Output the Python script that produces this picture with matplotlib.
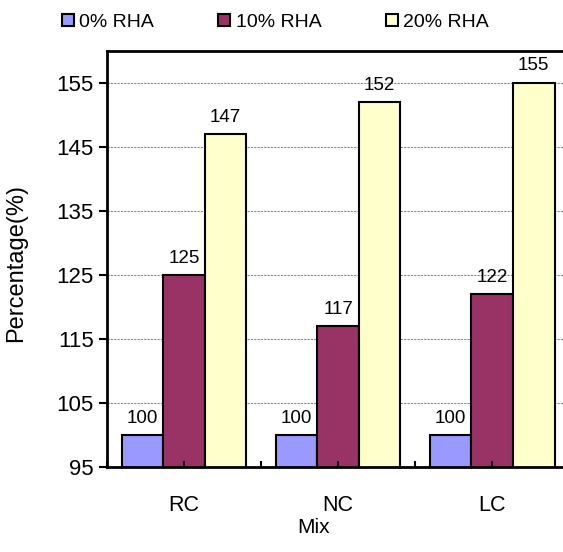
import numpy as np
import matplotlib
matplotlib.use("Agg")
import matplotlib.pyplot as plt
from matplotlib.patches import Patch
from matplotlib import font_manager

plt.rcParams['font.family'] = ['Liberation Sans', 'DejaVu Sans']
names = {f.name for f in font_manager.fontManager.ttflist}
narrow = ['Liberation Sans Narrow'] if 'Liberation Sans Narrow' in names else ['Liberation Sans']

mixes = ["RC", "NC", "LC"]
series = ["0% RHA", "10% RHA", "20% RHA"]
rha_0 = [100, 100, 100]
rha_10 = [125, 117, 122]
rha_20 = [147, 152, 155]
colors = ["#9999FF", "#993366", "#FFFFCC"]

fig = plt.figure(figsize=(5.63, 5.52), dpi=100)
# plot area runs slightly past the right edge of the figure
ax = fig.add_axes([0.190, 0.154, 0.821, 0.754])
ax.set_axisbelow(False)

x = np.arange(len(mixes))
w = 0.27
for i, (vals, c, lab) in enumerate(zip([rha_0, rha_10, rha_20], colors, series)):
    bars = ax.bar(x + (i - 1) * w, vals, w, color=c, edgecolor="black",
                  linewidth=1.5, label=lab, zorder=2)
    for b, v in zip(bars, vals):
        ax.annotate(str(v), (b.get_x() + b.get_width() / 2, v),
                    xytext=(0, 6), textcoords="offset points",
                    ha="center", va="bottom", fontsize=13.5)

ax.set_xlim(-0.5, len(mixes) - 0.5)
ax.set_ylim(95, 160)
ax.set_yticks(np.arange(95, 156, 10))
ax.tick_params(axis="y", labelsize=16, length=6, width=1.5, direction="out")
for y in np.arange(105, 156, 10):
    ax.axhline(y, color="#888888", linestyle=(0, (2, 1)), linewidth=0.8, zorder=1)

# half-category ticks pointing inward, labels at category centres
ax.xaxis.remove_overlapping_locs = False
ax.set_xticks(np.arange(-0.5, len(mixes), 0.5))
ax.set_xticklabels([])
ax.tick_params(axis="x", which="major", direction="in", length=4, width=1.5)
ax.set_xticks(x, minor=True)
ax.set_xticklabels(mixes, minor=True, fontsize=15.5, family=narrow)
ax.tick_params(axis="x", which="minor", length=0, pad=20)

for s in ax.spines.values():
    s.set_linewidth(2)

ax.set_ylabel("Percentage(%)", fontsize=17)
ax.yaxis.set_label_coords(-0.173, 0.49)
ax.set_xlabel("Mix", fontsize=15, family=narrow)
ax.xaxis.set_label_coords(0.446, -0.122)

handles = [Patch(facecolor=c, edgecolor="black", linewidth=1.5) for c in colors]
fig.legend(handles, series, loc="center left", bbox_to_anchor=(0.11, 0.96), ncol=3,
           frameon=False, fontsize=14, handlelength=0.6, handleheight=0.6,
           handletextpad=0.3, columnspacing=3.3, borderaxespad=0, borderpad=0)

fig.savefig("out.png", dpi=100)
